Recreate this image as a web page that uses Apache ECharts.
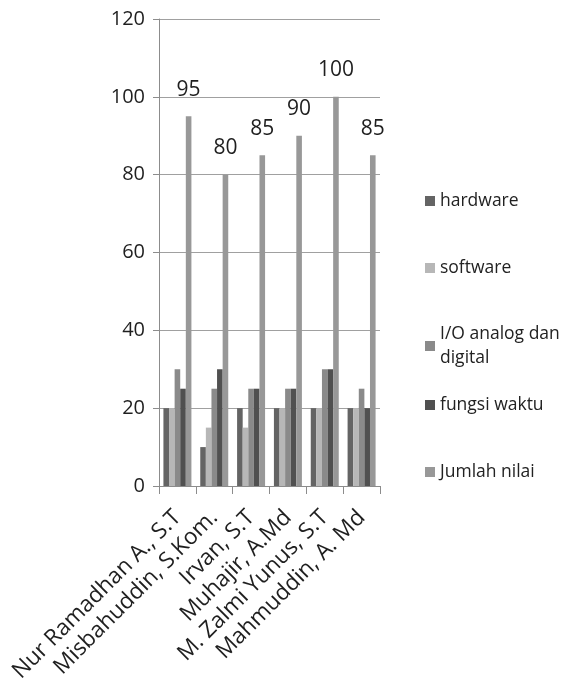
<!DOCTYPE html>
<html>
<head>
<meta charset="utf-8">
<script src="https://cdn.jsdelivr.net/npm/echarts@6/dist/echarts.min.js"></script>
<style>
  html, body { margin: 0; padding: 0; background: #fff; }
  #chart { width: 568px; height: 687px; }
</style>
</head>
<body>
<div id="chart"></div>
<script>
const names = [
  "Nur Ramadhan A., S.T",
  "Misbahuddin, S.Kom.",
  "Irvan, S.T",
  "Muhajir, A.Md",
  "M. Zalmi Yunus, S.T",
  "Mahmuddin, A. Md",
];
const hardware = [20, 10, 20, 20, 20, 20];
const software = [20, 15, 15, 20, 20, 20];
const ioAnalog = [30, 25, 25, 25, 30, 25];
const fungsiWaktu = [25, 30, 25, 25, 30, 20];
const jumlahNilai = [95, 80, 85, 90, 100, 85];
const yTicks = [0, 20, 40, 60, 80, 100, 120];

const seriesDefs = [
  { name: "hardware", data: hardware, color: "#646464" },
  { name: "software", data: software, color: "#b7b7b7" },
  { name: "I/O analog dan digital", data: ioAnalog, color: "#8a8a8a" },
  { name: "fungsi waktu", data: fungsiWaktu, color: "#505050" },
  { name: "Jumlah nilai", data: jumlahNilai, color: "#989898", label: true },
];

const font = "'Open Sans', 'Noto Sans', sans-serif";
const legendTops = [184, 251, 317, 388, 455];

const chart = echarts.init(document.getElementById("chart"));

chart.setOption({
  animation: false,
  textStyle: { fontFamily: font },
  grid: { left: 159, right: 188, top: 19, bottom: 201 },
  legend: seriesDefs.map((s, i) => ({
    data: [s.name],
    left: 420,
    top: legendTops[i],
    orient: "vertical",
    icon: "rect",
    itemWidth: 10,
    itemHeight: 10,
    itemGap: 6,
    formatter: (n) => (n === "I/O analog dan digital" ? "I/O analog dan\ndigital" : n),
    textStyle: { fontSize: 17.5, color: "#222", lineHeight: 24, fontFamily: font },
  })),
  xAxis: {
    type: "category",
    data: names,
    axisLine: { lineStyle: { color: "#8c8c8c" } },
    axisTick: { show: true, length: 8, interval: 0, lineStyle: { color: "#8c8c8c" } },
    axisLabel: {
      interval: 0,
      rotate: 45,
      fontSize: 22.5,
      color: "#1f1f1f",
      margin: 28,
    },
  },
  yAxis: {
    type: "value",
    min: 0,
    max: yTicks[yTicks.length - 1],
    interval: 20,
    axisLine: { show: true, lineStyle: { color: "#8c8c8c" } },
    axisTick: { show: true, length: 6, lineStyle: { color: "#8c8c8c" } },
    axisLabel: { fontSize: 20, color: "#1f1f1f", margin: 14 },
    splitLine: { lineStyle: { color: "#a0a0a0", width: 1 } },
  },
  series: seriesDefs.map((s) => ({
    name: s.name,
    type: "bar",
    data: s.data,
    barGap: "0%",
    barCategoryGap: "24%",
    itemStyle: { color: s.color },
    label: s.label
      ? {
          show: true,
          position: "top",
          distance: 16,
          fontSize: 21,
          color: "#1f1f1f",
          fontFamily: font,
        }
      : { show: false },
  })),
});
</script>
</body>
</html>
